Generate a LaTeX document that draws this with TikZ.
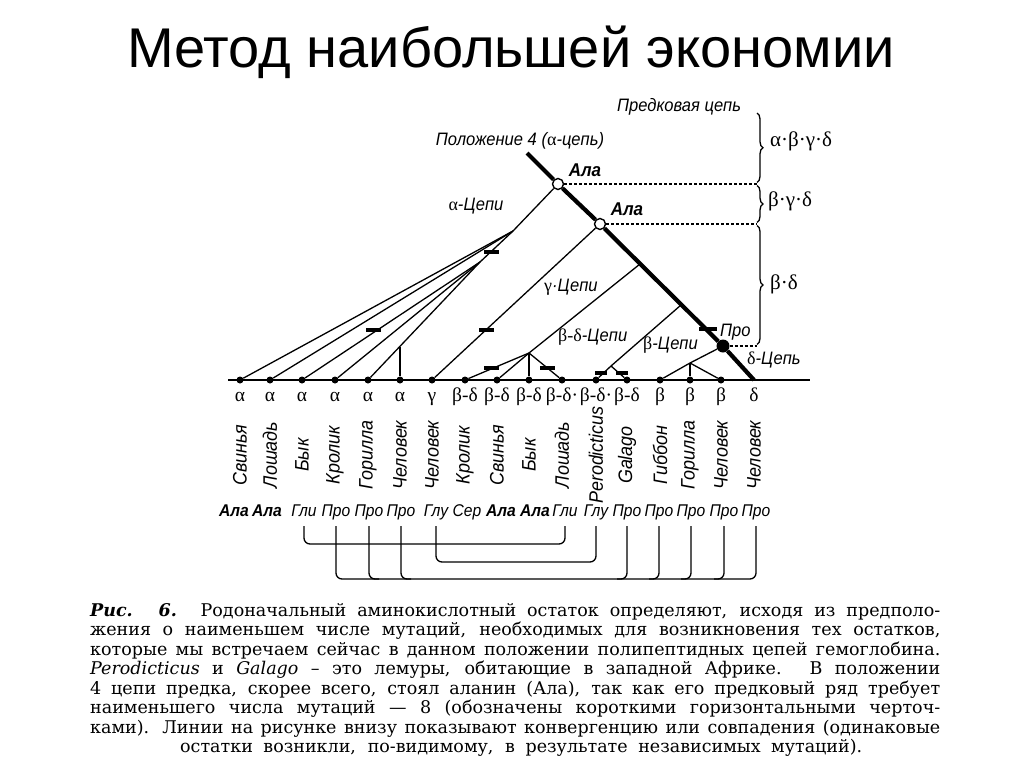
\documentclass[tikz,border=0pt]{standalone}
\usepackage{fontspec}
\setmainfont{DejaVu Serif}
\newfontfamily\slidefont{Liberation Sans}
\newfontfamily\figfont[FakeStretch=0.92]{Liberation Sans}
\newfontfamily\grkfont{Liberation Serif}
\newcommand{\gr}[1]{{\grkfont\upshape #1}}
\usetikzlibrary{decorations.pathreplacing}

\begin{document}
\begin{tikzpicture}[
  x=1pt, y=-1pt,
  branch/.style={line width=1.3pt},
  trunk/.style={line width=4.2pt},
  leaf/.style={circle, fill, inner sep=0pt, minimum size=7pt},
  anc/.style={circle, draw, fill=white, line width=1.4pt, inner sep=0pt, minimum size=11pt},
  mut/.style={fill, inner sep=0pt, minimum width=15pt, minimum height=4pt},
  lbl/.style={font=\figfont\itshape\fontsize{18}{20}\selectfont, inner sep=0pt},
  alab/.style={font=\figfont\bfseries\itshape\fontsize{18.5}{20}\selectfont, inner sep=0pt},
  grk/.style={font=\grkfont\fontsize{19.5}{22}\selectfont, inner sep=0pt},
  spc/.style={font=\figfont\itshape\fontsize{19.5}{21}\selectfont, rotate=90, inner sep=0pt},
  amino/.style={font=\figfont\itshape\fontsize{17}{19}\selectfont, inner sep=0pt},
  conv/.style={line width=1.3pt, rounded corners=6pt},
  chain/.style={decorate, decoration={brace, amplitude=6pt}, line width=1.3pt},
  captext/.style={font=\fontsize{17.5}{19}\selectfont, anchor=west, inner sep=0pt}
]
\fill[white] (0,0) rectangle (1024,768);
\useasboundingbox (0,0) rectangle (1024,768);

\node[font=\slidefont\fontsize{56}{62}\selectfont] (title) at (511,52) {Метод наибольшей экономии};

% baseline and leaves
\coordinate (bl) at (228,380);
\coordinate (br) at (810,380);
\draw[line width=1.5pt] (bl) -- (br);
\foreach \x/\g/\s [count=\i] in {240/α/Свинья, 270/α/Лошадь, 302/α/Бык, 335/α/Кролик,
    368/α/Горилла, 400/α/Человек, 432/γ/Человек, 465/β-δ/Кролик, 497/β-δ/Свинья,
    529/β-δ/Бык, 562/β-δ·/Лошадь, 596/β-δ·/Perodicticus, 627/β-δ/Galago,
    660/β/Гиббон, 690/β/Горилла, 721/β/Человек, 754/δ/Человек}{
  \node[grk, anchor=base] (g\i) at (\x,401) {\g};
  \node[spc] (s\i) at (\x,455) {\s};
}
\foreach \i in {1,...,16}
  \node[leaf] (l\i) at (g\i.base |- bl) {};
\coordinate (l17) at (g17.base |- bl);

% ancestors on the trunk
\coordinate (top) at (527,153);
\node[anc] (a1) at (558,184) {};
\node[anc] (a2) at (600,224) {};
\node[circle, fill, inner sep=0pt, minimum size=13pt] (pro) at (723,346) {};
\coordinate (b1) at (640,264);
\coordinate (b2) at (681,305);
\draw[trunk] (top) -- (a1) -- (a2) -- (pro) -- (l17);

% alpha chains
\coordinate (pa) at (513,231);
\coordinate (pb) at (480,262);
\coordinate (p6) at (400,347);
\draw[branch] (a1) -- (pa);
\draw[branch] (pa) -- (l1);
\draw[branch] (pa) -- (l2);
\draw[branch] (pa) -- (pb);
\draw[branch] (pb) -- (l3);
\draw[branch] (pb) -- (l4);
\draw[branch] (pb) -- (l5);
\draw[branch] (p6) -- (l6);

% gamma chain
\draw[branch] (a2) -- (l7);

% beta-delta chains
\coordinate (pbd) at (529,353);
\draw[branch] (b1) -- (pbd) -- (l9);
\draw[branch] (pbd) -- (l8);
\draw[branch] (pbd) -- (l10);
\draw[branch] (pbd) -- (l11);
\coordinate (plm) at (611,366);
\draw[branch] (b2) -- (plm);
\draw[branch] (plm) -- (l12);
\draw[branch] (plm) -- (l13);

% beta chains
\coordinate (pbt) at (690,363);
\draw[branch] (pro) -- (pbt);
\draw[branch] (pbt) -- (l14);
\draw[branch] (pbt) -- (l15);
\draw[branch] (pbt) -- (l16);

% mutations
\node[mut] (m1) at (491,252) {};
\node[mut] (m2) at (373,330) {};
\node[mut] (m3) at (486,330) {};
\node[mut] (m4) at (491,368) {};
\node[mut] (m5) at (547,368) {};
\node[mut, minimum width=12pt] (m6) at (601,373) {};
\node[mut, minimum width=12pt] (m7) at (622,373) {};
\node[mut, minimum width=18pt] (m8) at (708,329) {};

% labels in the tree
\node[lbl] (pos4) at (520,141) {Положение 4 (\gr{α}-цепь)};
\node[alab] (ala1) at (585,170) {Ала};
\node[alab] (ala2) at (627,209) {Ала};
\node[lbl] (acap) at (476,206) {\gr{α}-Цепи};
\node[lbl, anchor=west] (gcap) at (544,287) {\gr{γ}·Цепи};
\node[lbl, anchor=west] (bdcap) at (558,337) {\gr{β-δ}-Цепи};
\node[lbl, anchor=west] (bcap) at (643,345) {\gr{β}-Цепи};
\node[lbl, anchor=west] (procap) at (720,332) {Про};
\node[lbl, anchor=west] (dcap) at (747,360) {\gr{δ}-Цепь};
\node[lbl, anchor=west] (ancest) at (617,107) {Предковая цепь};

% levels of the ancestral chain
\coordinate (bx) at (757,0);
\draw[branch, dash pattern=on 3pt off 2pt] (a1) -- (a1 -| bx);
\draw[branch, dash pattern=on 3pt off 2pt] (a2) -- (a2 -| bx);
\draw[branch, dash pattern=on 3pt off 2pt] (pro) -- (pro -| bx);
\coordinate (k0) at (757,112);
\coordinate (k1) at (757,184);
\coordinate (k2) at (757,224);
\coordinate (k3) at (757,346);
\draw[chain] ([yshift=-1pt]k0) -- ([yshift=1.5pt]k1);
\draw[chain] ([yshift=-1.5pt]k1) -- ([yshift=1.5pt]k2);
\draw[chain] ([yshift=-1.5pt]k2) -- ([yshift=1.5pt]k3);
\node[grk, anchor=west, font=\grkfont\fontsize{21}{23}\selectfont] (t1) at (770,141) {α·β·γ·δ};
\node[grk, anchor=west, font=\grkfont\fontsize{21}{23}\selectfont] (t2) at (768,201) {β·γ·δ};
\node[grk, anchor=west, font=\grkfont\fontsize{21}{23}\selectfont] (t3) at (770,284) {β·δ};

% residues at position 4
\foreach \x/\a [count=\i] in {234/\textbf{Ала}, 267/\textbf{Ала}, 304/Гли, 336/Про, 369/Про,
    401/Про, 436/Глу, 467/Сер, 501/\textbf{Ала}, 535/\textbf{Ала}, 565/Гли, 596/Глу,
    627/Про, 659/Про, 691/Про, 724/Про, 756/Про}
  \node[amino, anchor=base] (aa\i) at (\x,516) {\a};

% convergences
\coordinate (ctop) at (0,526);
\coordinate (c1) at (0,544);
\coordinate (c2) at (0,562);
\coordinate (c3) at (0,579);
\draw[conv] (aa3 |- ctop) |- (aa11 |- c1) -- (aa11 |- ctop);
\draw[conv] (aa7 |- ctop) |- (aa12 |- c2) -- (aa12 |- ctop);
\draw[conv] (aa4 |- ctop) |- (aa17 |- c3) -- (aa17 |- ctop);
\foreach \i in {5,6}
  \draw[conv] (aa\i |- ctop) |- ([xshift=10pt]aa\i |- c3);
\foreach \i in {13,...,16}
  \draw[conv] (aa\i |- ctop) |- ([xshift=-10pt]aa\i |- c3);

% caption
\node[captext] (cap1) at (90,612) {\makebox[850pt][s]{{\bfseries\itshape Рис. 6.} Родоначальный аминокислотный остаток определяют, исходя из предполо-}};
\node[captext] (cap2) at (90,631) {\makebox[850pt][s]{жения о наименьшем числе мутаций, необходимых для возникновения тех остатков,}};
\node[captext] (cap3) at (90,651) {\makebox[850pt][s]{которые мы встречаем сейчас в данном положении полипептидных цепей гемоглобина.}};
\node[captext] (cap4) at (90,670) {\makebox[850pt][s]{\textit{Perodicticus} и \textit{Galago} -- это лемуры, обитающие в западной Африке. В положении}};
\node[captext] (cap5) at (90,690) {\makebox[850pt][s]{4 цепи предка, скорее всего, стоял аланин (Ала), так как его предковый ряд требует}};
\node[captext] (cap6) at (90,709) {\makebox[850pt][s]{наименьшего числа мутаций — 8 (обозначены короткими горизонтальными черточ-}};
\node[captext] (cap7) at (90,729) {\makebox[850pt][s]{ками). Линии на рисунке внизу показывают конвергенцию или совпадения (одинаковые}};
\node[captext] (cap8) at (180,748) {\makebox[682pt][s]{остатки возникли, по-видимому, в результате независимых мутаций).}};
\end{tikzpicture}
\end{document}
